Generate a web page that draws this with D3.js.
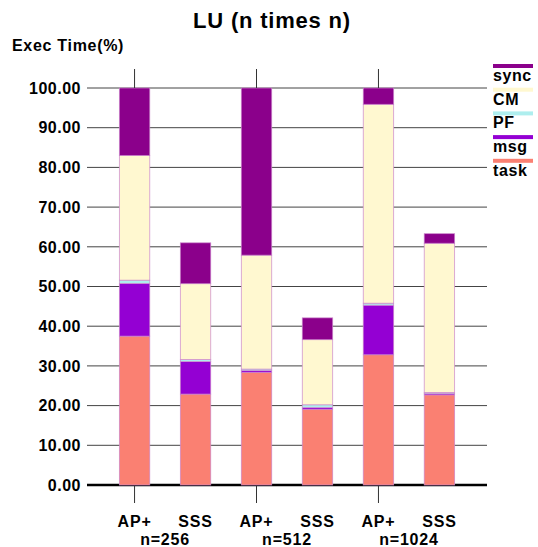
<!DOCTYPE html>
<html>
<head>
<meta charset="utf-8">
<script src="https://cdn.jsdelivr.net/npm/d3@7"></script>
<style>
  body { margin: 0; background: #fff; }
  text { font-family: "Liberation Sans", Arial, sans-serif; font-weight: bold; fill: #000; }
</style>
</head>
<body>
<svg width="538" height="547"></svg>
<script>
// bars, in drawing order
var bars = ["AP+ 256", "SSS 256", "AP+ 512", "SSS 512", "AP+ 1024", "SSS 1024"];
var barLabels = ["AP+", "SSS", "AP+", "SSS", "AP+", "SSS"];
var groups = ["n=256", "n=512", "n=1024"];
var parts = ["task", "msg", "PF", "CM", "sync"];

// percent of execution time, one array per component
var task = [37.5, 22.9, 28.4, 19.1, 32.8, 22.7];
var msg  = [13.3,  8.2,  0.4,  0.4, 12.5,  0.3];
var pf   = [ 0.8,  0.5,  0.4,  0.7,  0.5,  0.3];
var cm   = [31.4, 19.1, 28.7, 16.4, 50.1, 37.6];
var sync = [17.0, 10.3, 42.1,  5.5,  4.1,  2.4];

var yTicks = [0, 10, 20, 30, 40, 50, 60, 70, 80, 90, 100];

var colors = {task: "#fa8072", msg: "#9400d3", PF: "#aeeeee", CM: "#fff8d0", sync: "#8b008b"};

var svg = d3.select("svg"),
    margin = {top: 88, right: 51, bottom: 62, left: 87},
    width = +svg.attr("width") - margin.left - margin.right,
    height = +svg.attr("height") - margin.top - margin.bottom,
    g = svg.append("g").attr("transform", "translate(" + margin.left + "," + margin.top + ")");

var table = bars.map(function(id, i) {
  return {id: id, task: task[i], msg: msg[i], PF: pf[i], CM: cm[i], sync: sync[i]};
});
var series = d3.stack().keys(parts)(table);

var x = d3.scaleBand().domain(bars).range([0, width]).paddingInner(0.5).paddingOuter(0.53),
    y = d3.scaleLinear().domain([0, 100]).range([height, 0]);

// grid lines
g.append("g")
  .selectAll("line")
  .data(yTicks)
  .enter().append("line")
    .attr("x1", 0)
    .attr("x2", width)
    .attr("y1", function(d) { return y(d); })
    .attr("y2", function(d) { return y(d); })
    .attr("stroke", function(d) { return d === 0 ? "#000" : "#444"; })
    .attr("stroke-width", function(d) { return d === 0 ? 2.5 : 1; });

// y labels
g.append("g")
  .selectAll("text")
  .data(yTicks)
  .enter().append("text")
    .attr("x", -6)
    .attr("y", function(d) { return y(d); })
    .attr("dy", "0.36em")
    .attr("text-anchor", "end")
    .style("font-size", "16px")
    .style("letter-spacing", "0.5px")
    .text(function(d) { return d3.format(".2f")(d); });

// stacked bars
g.selectAll(".part")
  .data(series)
  .enter().append("g")
    .attr("class", "part")
    .attr("fill", function(d) { return colors[d.key]; })
  .selectAll("rect")
  .data(function(d) { return d; })
  .enter().append("rect")
    .attr("x", function(d) { return x(d.data.id); })
    .attr("y", function(d) { return y(d[1]); })
    .attr("width", x.bandwidth())
    .attr("height", function(d) { return y(d[0]) - y(d[1]); })
    .attr("stroke", "#cc88cc")
    .attr("stroke-width", 0.7);

// group ticks, top and bottom, at each AP+ bar
var groupX = function(i) { return x(bars[i * 2]) + x.bandwidth() / 2; };
groups.forEach(function(name, i) {
  g.append("line")
    .attr("x1", groupX(i)).attr("x2", groupX(i))
    .attr("y1", height + 1).attr("y2", height + 18)
    .attr("stroke", "#333");
  g.append("line")
    .attr("x1", groupX(i)).attr("x2", groupX(i))
    .attr("y1", 0).attr("y2", -19)
    .attr("stroke", "#333");
  g.append("text")
    .attr("x", (groupX(i) + x(bars[i * 2 + 1]) + x.bandwidth() / 2) / 2)
    .attr("y", height + 60)
    .attr("text-anchor", "middle")
    .style("font-size", "16px")
    .style("letter-spacing", "0.8px")
    .text(name);
});

// bar labels
g.append("g")
  .selectAll("text")
  .data(bars)
  .enter().append("text")
    .attr("x", function(d) { return x(d) + x.bandwidth() / 2; })
    .attr("y", height + 42)
    .attr("text-anchor", "middle")
    .style("font-size", "16px")
    .style("letter-spacing", "0.8px")
    .text(function(d, i) { return barLabels[i]; });

// legend, top item first
var legend = svg.append("g")
    .attr("transform", "translate(" + (margin.left + width + 6) + ",64)");
var item = legend.selectAll("g")
  .data(parts.slice().reverse())
  .enter().append("g")
    .attr("transform", function(d, i) { return "translate(0," + (i * 23.7) + ")"; });
item.append("rect")
    .attr("width", 40)
    .attr("height", 4)
    .attr("fill", function(d) { return colors[d]; });
item.append("text")
    .attr("x", 0)
    .attr("y", 17)
    .style("font-size", "16px")
    .style("letter-spacing", "0.6px")
    .text(function(d) { return d; });

// titles
svg.append("text")
    .attr("x", 272)
    .attr("y", 28)
    .attr("text-anchor", "middle")
    .style("font-size", "22px")
    .style("letter-spacing", "0.8px")
    .text("LU (n times n)");

svg.append("text")
    .attr("x", 12)
    .attr("y", 51)
    .style("font-size", "16px")
    .style("letter-spacing", "0.7px")
    .text("Exec Time(%)");
</script>
</body>
</html>
